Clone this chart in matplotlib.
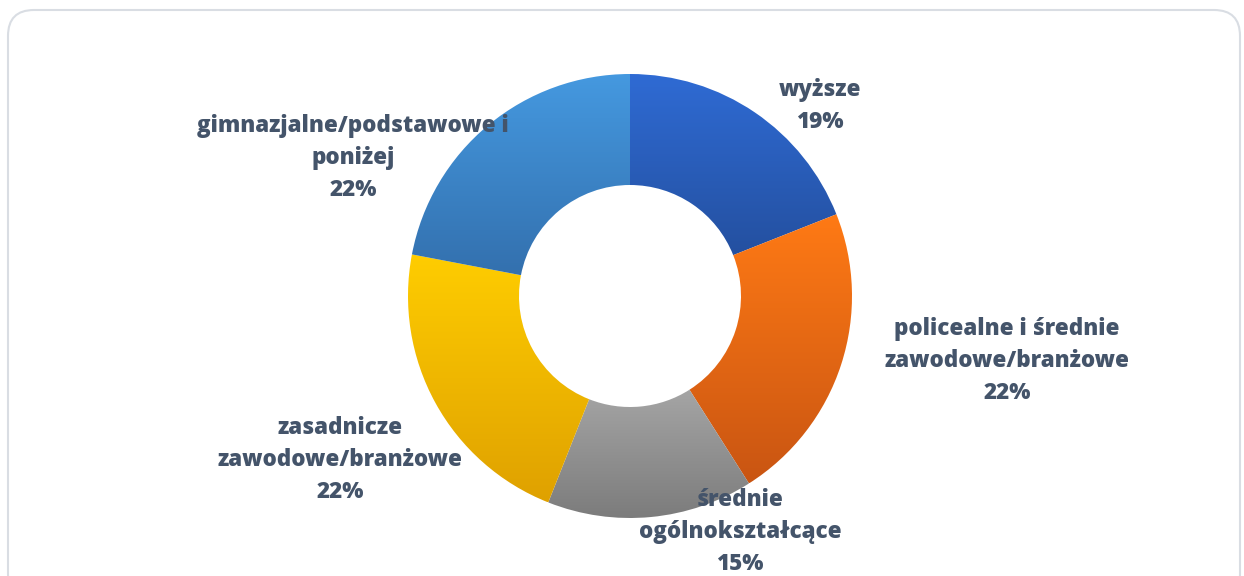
import numpy as np
import matplotlib.pyplot as plt
from matplotlib.colors import LinearSegmentedColormap
from matplotlib.patches import FancyBboxPatch

# Dane
kategorie = ["wyższe", "policealne i średnie\nzawodowe/branżowe", "średnie\nogólnokształcące",
             "zasadnicze\nzawodowe/branżowe", "gimnazjalne/podstawowe i\nponiżej"]
wartosci = [19, 22, 15, 22, 22]
kolory_gora = ["#2f6bd4", "#ff7a15", "#a5a5a5", "#ffcd00", "#4599e0"]
kolory_dol = ["#2450a0", "#c95512", "#7c7c7c", "#dfa100", "#3370ae"]
etykiety_xy = [(820, 106), (1007, 361), (740, 532), (340, 460), (353, 158)]

W, H = 1244, 576
fig = plt.figure(figsize=(W / 100, H / 100), dpi=100)
ax = fig.add_axes([0, 0, 1, 1])

# Ramka wykresu (zaokraglona)
ramka = FancyBboxPatch((8, H - 600), 1232, 590,
                       boxstyle="round,pad=0,rounding_size=26",
                       fc="white", ec="#d9dde3", lw=1.5, zorder=0)
ax.add_patch(ramka)

cx, cy, r = 630, H - 296, 222
wedges, _ = ax.pie(wartosci, startangle=90, counterclock=False, center=(cx, cy), radius=r,
                   wedgeprops=dict(width=111, linewidth=0), frame=True)

# Gradient pionowy w kazdym segmencie
for w, c1, c2 in zip(wedges, kolory_gora, kolory_dol):
    w.set_facecolor("none")
    bb = w.get_path().get_extents()
    cmap = LinearSegmentedColormap.from_list("g", [c2, c1])
    grad = np.linspace(0, 1, 256).reshape(-1, 1)
    im = ax.imshow(grad, cmap=cmap, origin="lower", aspect="auto",
                   extent=(bb.x0, bb.x1, bb.y0, bb.y1), zorder=2, interpolation="bilinear")
    im.set_clip_path(w)

# Etykiety
for nazwa, val, (x, y) in zip(kategorie, wartosci, etykiety_xy):
    ax.text(x, H - y, f"{nazwa}\n{val}%", ha="center", va="center", fontsize=16.1,
            fontweight=800, color="#44546a", family="Open Sans", linespacing=1.44, zorder=5)

ax.set_xlim(0, W)
ax.set_ylim(0, H)
ax.set_aspect("auto")
ax.axis("off")

fig.savefig("out.png", dpi=100)
